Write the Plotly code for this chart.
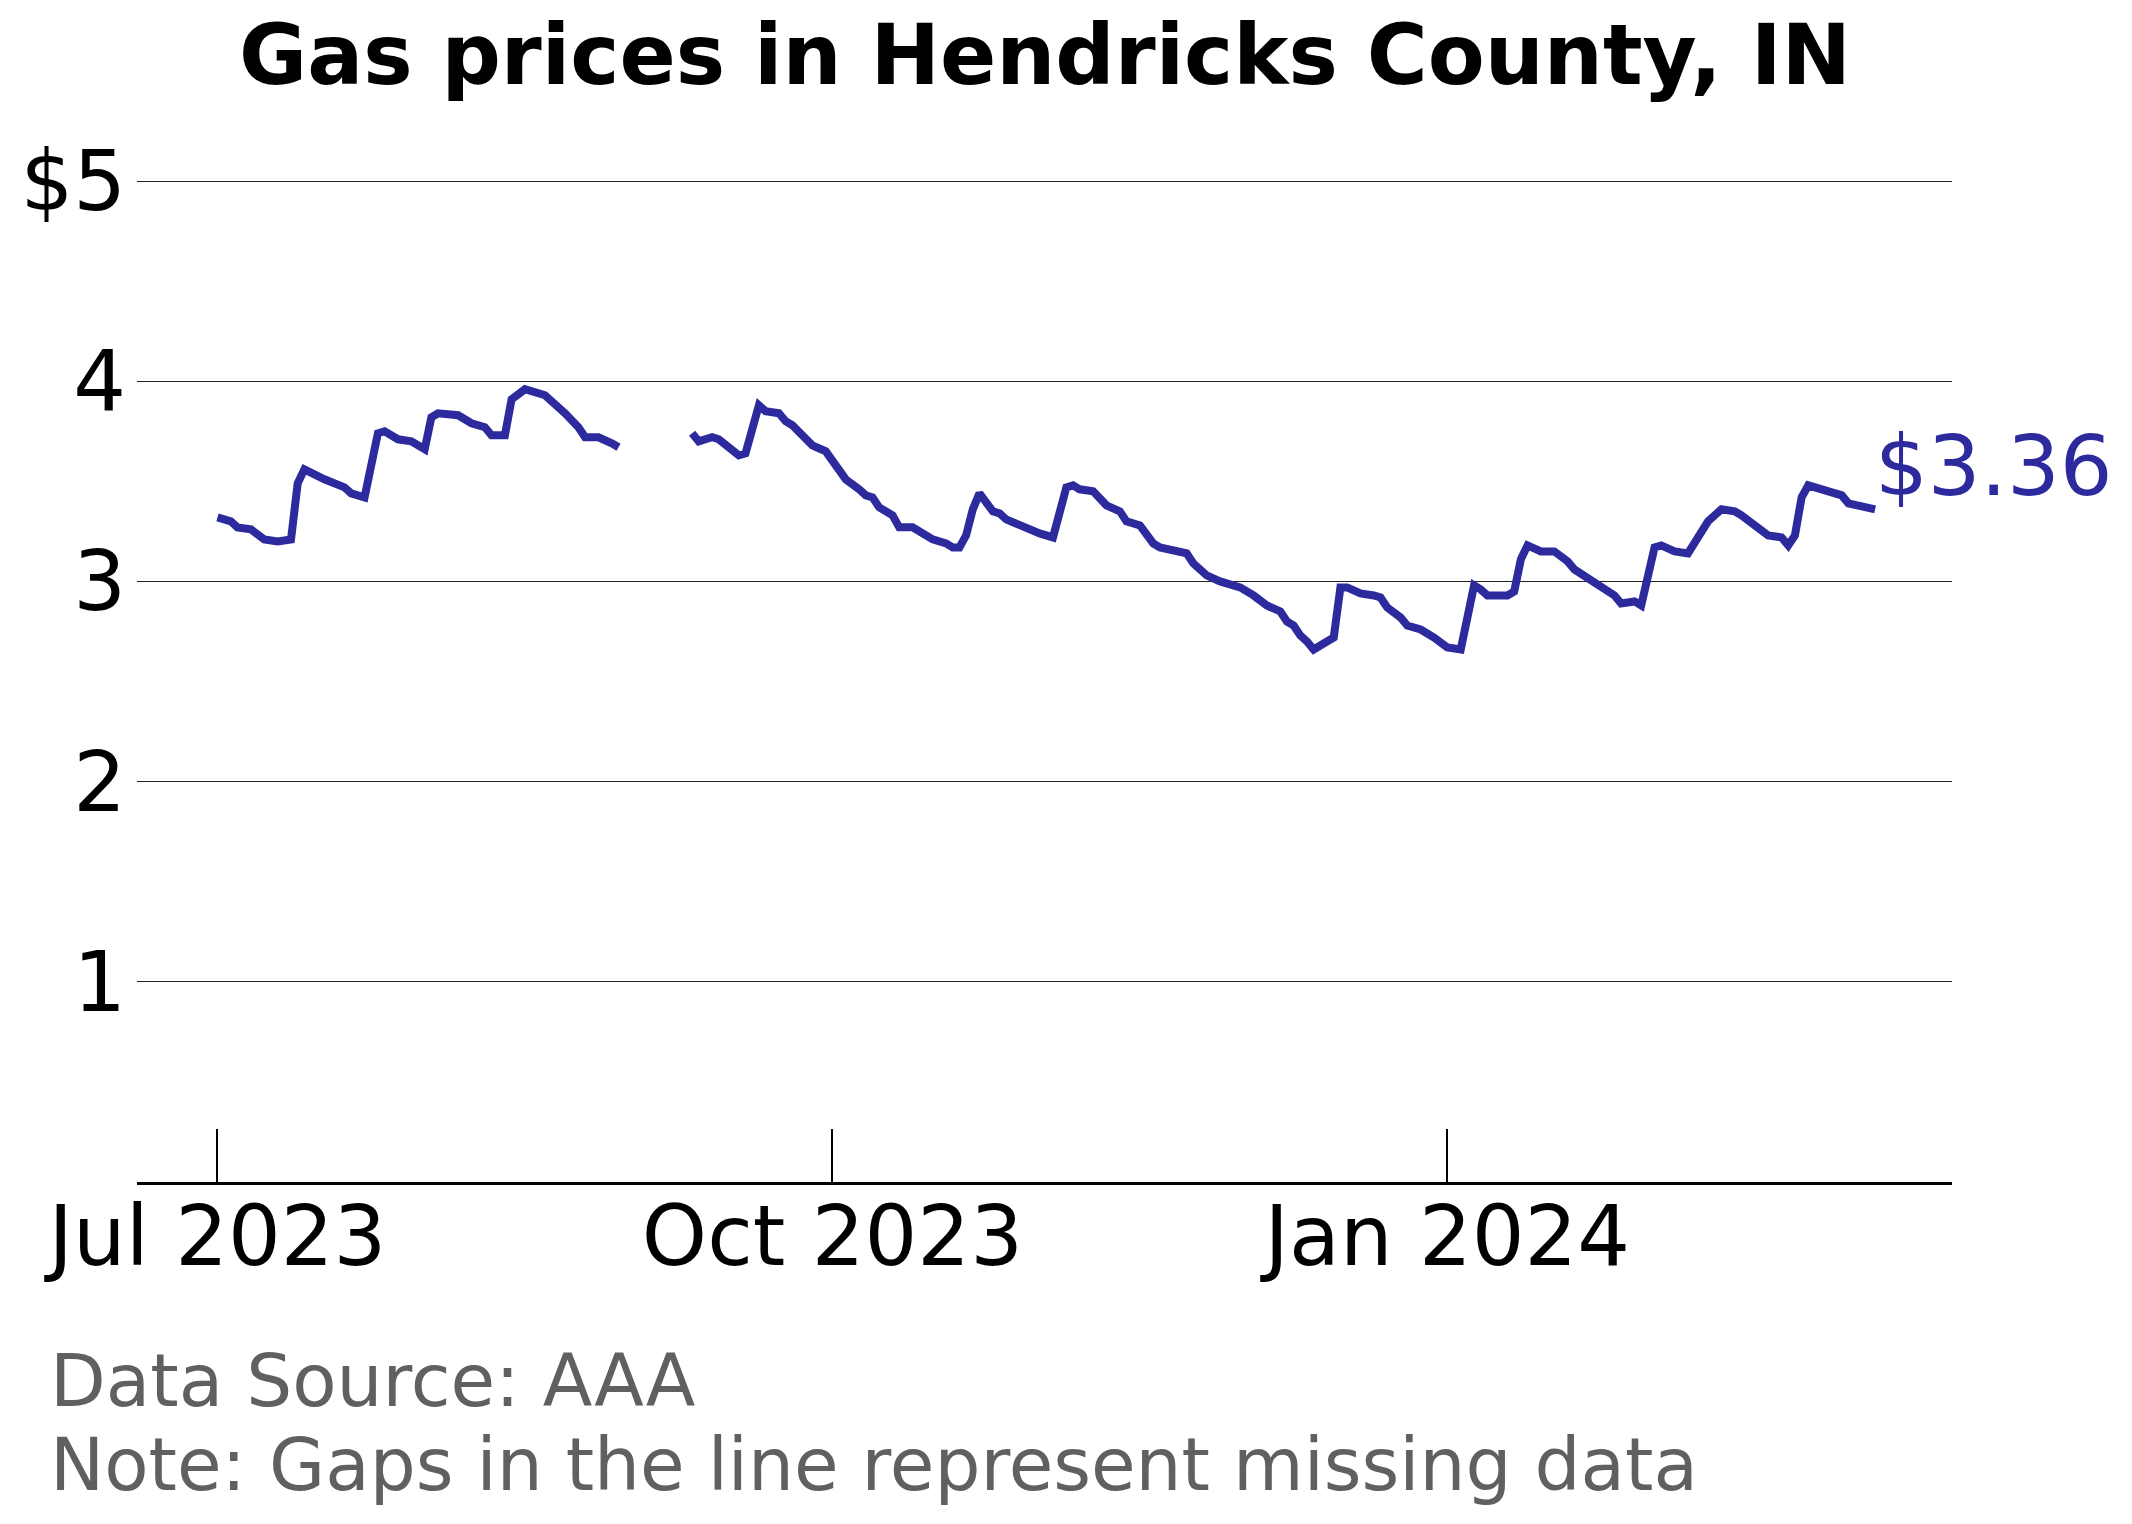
import plotly.graph_objects as go

# ---- data ----
dates = [
    "2023-07-01", "2023-07-03", "2023-07-04", "2023-07-06", "2023-07-08", "2023-07-10",
    "2023-07-12", "2023-07-13", "2023-07-14", "2023-07-15", "2023-07-17", "2023-07-20",
    "2023-07-21", "2023-07-23", "2023-07-25", "2023-07-26", "2023-07-28", "2023-07-30",
    "2023-08-01", "2023-08-02", "2023-08-03", "2023-08-06", "2023-08-08", "2023-08-10",
    "2023-08-11", "2023-08-13", "2023-08-14", "2023-08-16", "2023-08-18", "2023-08-19",
    "2023-08-22", "2023-08-24", "2023-08-25", "2023-08-27", "2023-08-29", "2023-08-30",
    "2023-09-04",
    "2023-09-10", "2023-09-11", "2023-09-13", "2023-09-14", "2023-09-17", "2023-09-18",
    "2023-09-20", "2023-09-21", "2023-09-23", "2023-09-24", "2023-09-25", "2023-09-27",
    "2023-09-28", "2023-09-30", "2023-10-01", "2023-10-02", "2023-10-03", "2023-10-05",
    "2023-10-06", "2023-10-07", "2023-10-08", "2023-10-10", "2023-10-11", "2023-10-13",
    "2023-10-16", "2023-10-18", "2023-10-19", "2023-10-20", "2023-10-21", "2023-10-22",
    "2023-10-23", "2023-10-25", "2023-10-26", "2023-10-27", "2023-10-29", "2023-10-30",
    "2023-11-01", "2023-11-03", "2023-11-04", "2023-11-05", "2023-11-06", "2023-11-07",
    "2023-11-09", "2023-11-11", "2023-11-13", "2023-11-14", "2023-11-16", "2023-11-18",
    "2023-11-19", "2023-11-21", "2023-11-23", "2023-11-24", "2023-11-26", "2023-11-28",
    "2023-12-01", "2023-12-03", "2023-12-05", "2023-12-07", "2023-12-08", "2023-12-09",
    "2023-12-10", "2023-12-11", "2023-12-12", "2023-12-15", "2023-12-16", "2023-12-17",
    "2023-12-19", "2023-12-21", "2023-12-22", "2023-12-23", "2023-12-25", "2023-12-26",
    "2023-12-28", "2023-12-30", "2024-01-01", "2024-01-03", "2024-01-04", "2024-01-05",
    "2024-01-06", "2024-01-07", "2024-01-08", "2024-01-10", "2024-01-11", "2024-01-12",
    "2024-01-13", "2024-01-15", "2024-01-17", "2024-01-19", "2024-01-20", "2024-01-23",
    "2024-01-24", "2024-01-26", "2024-01-27", "2024-01-29", "2024-01-30", "2024-02-01",
    "2024-02-02", "2024-02-04", "2024-02-06", "2024-02-07", "2024-02-09", "2024-02-11",
    "2024-02-13", "2024-02-14", "2024-02-16", "2024-02-17", "2024-02-18", "2024-02-20",
    "2024-02-21", "2024-02-22", "2024-02-23", "2024-02-24", "2024-02-26", "2024-02-27",
    "2024-02-28", "2024-02-29", "2024-03-01", "2024-03-03", "2024-03-04", "2024-03-05",
]
prices = [
    3.32, 3.30, 3.27, 3.26, 3.21, 3.20,
    3.21, 3.49, 3.56, 3.54, 3.51, 3.47,
    3.44, 3.42, 3.74, 3.75, 3.71, 3.70,
    3.66, 3.82, 3.84, 3.83, 3.79, 3.77,
    3.73, 3.73, 3.91, 3.96, 3.94, 3.93,
    3.84, 3.77, 3.72, 3.72, 3.69, 3.67,
    None,
    3.74, 3.70, 3.72, 3.71, 3.63, 3.64,
    3.88, 3.85, 3.84, 3.80, 3.78, 3.71,
    3.68, 3.65, 3.60, 3.56, 3.51, 3.46,
    3.43, 3.42, 3.37, 3.33, 3.27, 3.27,
    3.21, 3.19, 3.17, 3.17, 3.23, 3.36,
    3.44, 3.35, 3.34, 3.31, 3.28, 3.26,
    3.24, 3.22, 3.34, 3.47, 3.48, 3.46,
    3.45, 3.38, 3.35, 3.30, 3.28, 3.19,
    3.17, 3.15, 3.14, 3.09, 3.03, 3.00,
    2.97, 2.93, 2.88, 2.85, 2.80, 2.78,
    2.73, 2.70, 2.66, 2.72, 2.97, 2.97,
    2.94, 2.93, 2.92, 2.87, 2.82, 2.78,
    2.76, 2.72, 2.67, 2.66, 2.84, 2.98,
    2.96, 2.93, 2.93, 2.93, 2.95, 3.11,
    3.18, 3.15, 3.15, 3.10, 3.06, 3.00,
    2.98, 2.93, 2.89, 2.90, 2.88, 3.17,
    3.18, 3.15, 3.14, 3.19, 3.30, 3.36,
    3.35, 3.33, 3.28, 3.26, 3.23, 3.22,
    3.18, 3.23, 3.42, 3.48, 3.46, 3.46,
    3.44, 3.43, 3.39, 3.37, 3.36, 3.36,
]

x_tick_vals = ["2023-07-01", "2023-10-01", "2024-01-01"]
x_tick_text = ["Jul 2023", "Oct 2023", "Jan 2024"]
y_tick_vals = [1, 2, 3, 4, 5]
y_tick_text = ["1", "2", "3", "4", "$5"]

title_text = "Gas prices in Hendricks County, IN"
source_text = "Data Source: AAA"
note_text = "Note: Gaps in the line represent missing data"

LINE_COLOR = "#2d2a9e"
FONT = "DejaVu Sans"

# page body has an 8px default margin: size the figure to fit the window
OFF = 8
W, H = 2132 - OFF, 1524 - OFF
ML, MT = 137 - OFF, 141 - OFF
MR = W - (1952 - OFF)
MB = H - (1182 - OFF)
plot_h = H - MT - MB
plot_w = W - ML - MR


def py(px):
    # px: screen pixel y in the reference
    return (H - MB - (px - OFF)) / plot_h


def pxx(px):
    return ((px - OFF) - ML) / plot_w


fig = go.Figure()
fig.add_trace(go.Scatter(
    x=dates, y=prices, mode="lines", connectgaps=False,
    line=dict(color=LINE_COLOR, width=8),
    hoverinfo="skip", showlegend=False,
))

last_val = prices[-1]
fig.add_annotation(
    x=dates[-1], y=last_val, xref="x", yref="y",
    text=f"${last_val:.2f}", showarrow=False,
    xanchor="left", yanchor="bottom", xshift=-2, yshift=-8,
    font=dict(family=FONT, size=83, color=LINE_COLOR),
)

fig.add_annotation(
    x=pxx(48), y=py(1381), xref="paper", yref="paper",
    text=source_text, showarrow=False, xanchor="left", yanchor="middle",
    font=dict(family=FONT, size=72.5, color="#606060"),
)
fig.add_annotation(
    x=pxx(48), y=py(1465), xref="paper", yref="paper",
    text=note_text, showarrow=False, xanchor="left", yanchor="middle",
    font=dict(family=FONT, size=72.5, color="#606060"),
)
fig.add_annotation(
    x=0.5, y=py(56), xref="paper", yref="paper",
    text=f"<b>{title_text}</b>", showarrow=False, xanchor="center", yanchor="middle",
    font=dict(family=FONT, size=83, color="black"),
)

fig.update_layout(
    width=W, height=H,
    margin=dict(l=ML, r=MR, t=MT, b=MB, pad=0),
    paper_bgcolor="white", plot_bgcolor="white",
    font=dict(family=FONT, size=83, color="black"),
    xaxis=dict(
        type="date",
        range=["2023-06-18 23:00", "2024-03-16 12:00"],
        tickvals=x_tick_vals, ticktext=x_tick_text,
        ticks="inside", ticklen=53, tickwidth=1.5, tickcolor="black",
        ticklabelstandoff=-20,
        showline=True, linecolor="black", linewidth=3,
        showgrid=False, zeroline=False,
        tickfont=dict(family=FONT, size=83, color="black"),
    ),
    yaxis=dict(
        range=[0, 5.2],
        tickvals=y_tick_vals, ticktext=y_tick_text,
        ticks="", showline=False, zeroline=False,
        ticklabelstandoff=10,
        showgrid=True, gridcolor="#222222", gridwidth=1.3,
        tickfont=dict(family=FONT, size=83, color="black"),
    ),
)

fig.write_html("out.html")
